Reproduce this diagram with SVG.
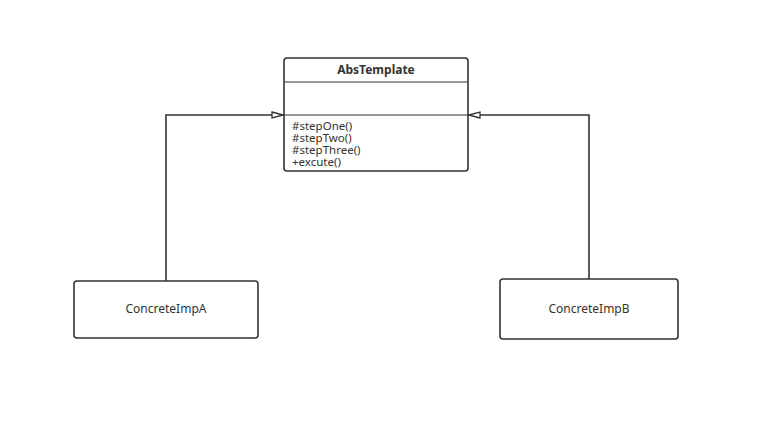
<svg xmlns="http://www.w3.org/2000/svg" width="783" height="424" viewBox="0 0 783 424">
<style>
.box{fill:#fff;stroke:#333;stroke-width:1.6}
.sep{stroke:#333;stroke-width:1.2}
.edge{fill:none;stroke:#333;stroke-width:1.6}
text{font-family:"Noto Sans","Open Sans","DejaVu Sans",sans-serif;fill:#333}
.t{font-size:12px;font-weight:bold}
.m{font-size:11.5px}
.n{font-size:12px}
</style>
<defs>
<marker id="tri" markerWidth="14" markerHeight="10" refX="12" refY="4" orient="auto" markerUnits="userSpaceOnUse">
<path d="M1,1 L12,4 L1,7 Z" fill="#fff" stroke="#333" stroke-width="1.3"/>
</marker>
</defs>
<rect width="783" height="424" fill="#fff"/>
<g id="connectors">
<path class="edge" d="M166,281 L166,115 L283,115" marker-end="url(#tri)"/>
<path class="edge" d="M589,279 L589,115 L469,115" marker-end="url(#tri)"/>
</g>
<g id="AbsTemplate">
<rect class="box" x="284" y="58" width="184" height="113" rx="3"/>
<line class="sep" x1="284" y1="82" x2="468" y2="82"/>
<line class="sep" x1="284" y1="115" x2="468" y2="115"/>
<text class="t" x="376" y="74" text-anchor="middle">AbsTemplate</text>
<text class="m"><tspan x="292" y="130">#stepOne()</tspan><tspan x="292" y="142">#stepTwo()</tspan><tspan x="292" y="154">#stepThree()</tspan><tspan x="292" y="166">+excute()</tspan></text>
</g>
<g id="ConcreteImpA">
<rect class="box" x="74" y="281" width="184" height="57" rx="3"/>
<text class="n" x="166" y="313" text-anchor="middle">ConcreteImpA</text>
</g>
<g id="ConcreteImpB">
<rect class="box" x="500" y="279" width="178" height="60" rx="3"/>
<text class="n" x="589" y="313" text-anchor="middle">ConcreteImpB</text>
</g>
</svg>
